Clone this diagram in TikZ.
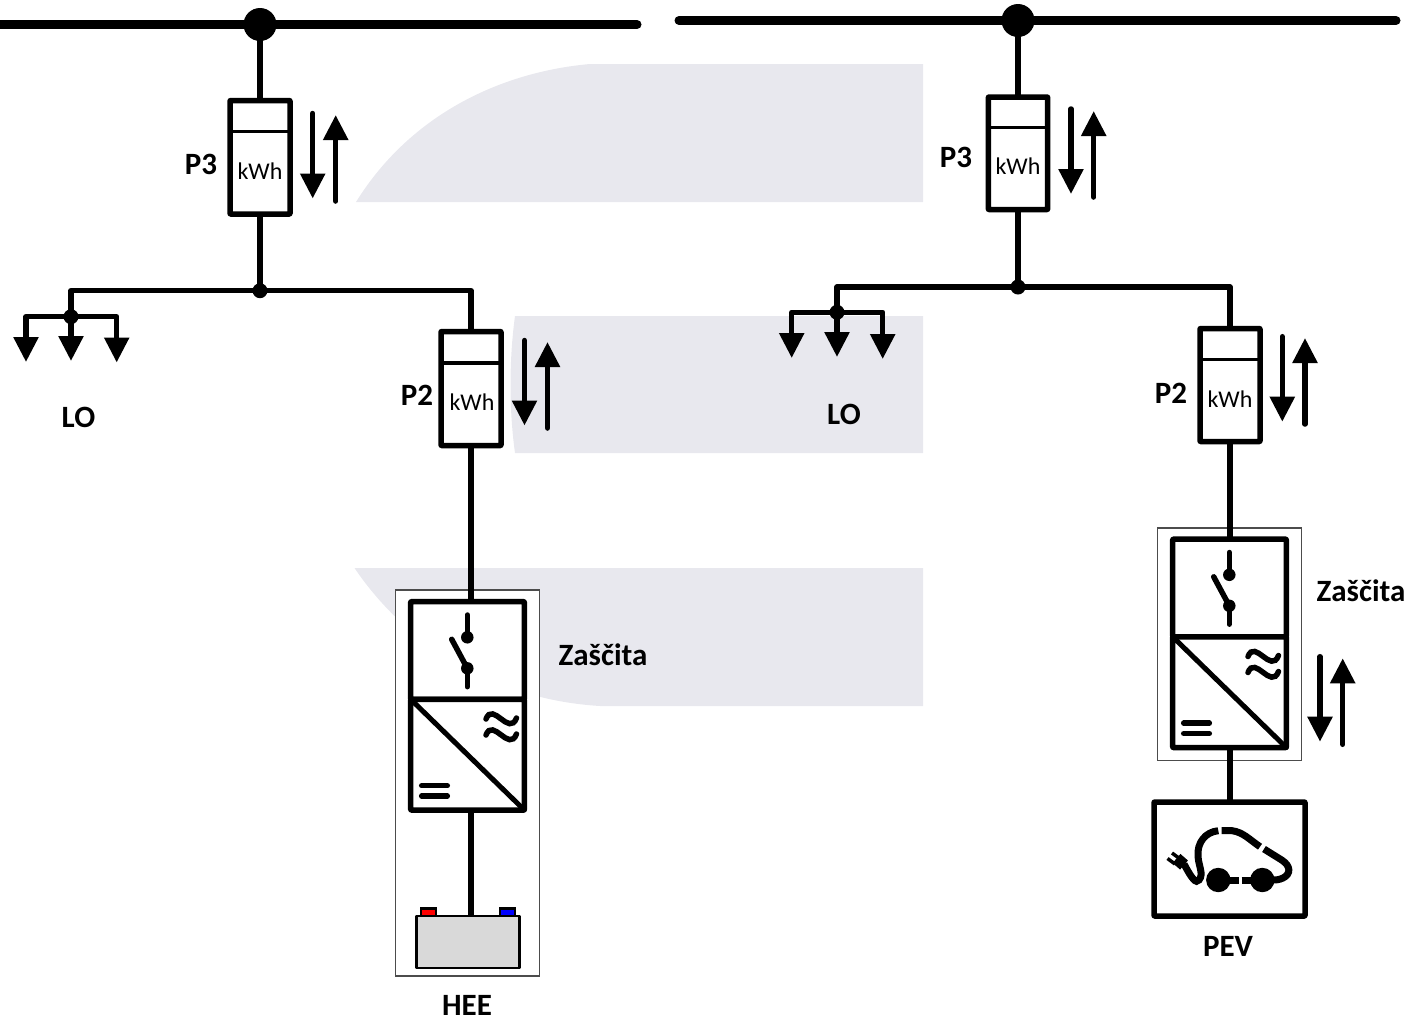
\documentclass[tikz,border=0pt]{standalone}
\usepackage{fontspec}
\setmainfont{Carlito}
\usetikzlibrary{arrows.meta,calc}
\definecolor{bandgrey}{HTML}{E8E8EE}
\definecolor{battgrey}{HTML}{D9D9D9}
\tikzset{
  busline/.style={line width=9pt,line cap=round},
  wire/.style={line width=6pt,line join=round},
  thinwire/.style={line width=5.5pt,line join=round},
  flowarrow/.style={line width=5.5pt,line cap=round,-{Triangle[width=24pt,length=25pt]}},
  loadarrow/.style={line width=5.5pt,line join=round,-{Triangle[width=24pt,length=25pt]}},
  box/.style={draw=black,line width=5.5pt,fill=white,rounded corners=0.5pt,inner sep=0pt,outer sep=0pt,line join=round},
  bigdot/.style={circle,fill=black,inner sep=0pt,outer sep=0pt,minimum size=33pt},
  smalldot/.style={circle,fill=black,inner sep=0pt,outer sep=0pt,minimum size=15pt},
  pivot/.style={circle,fill=black,inner sep=0pt,outer sep=0pt,minimum size=12.5pt},
  lbl/.style={font=\fontsize{31}{33}\selectfont\bfseries,inner sep=0pt},
  unitlbl/.style={font=\fontsize{24}{26}\selectfont,inner sep=0pt},
  frame/.style={draw=black!70,line width=1.2pt,fill=white,inner sep=0pt,outer sep=0pt},
  band/.style={fill=bandgrey,draw=none},
  symb/.style={line width=5.5pt,line cap=round},
}
% name, cx, top, bottom, divider y, half width
\newcommand{\meterbox}[6]{%
  \node[box,minimum width=#6*2pt,minimum height=#4pt-#3pt] (#1) at (#2,{(#3+#4)/2}) {};
  \draw[line width=3.5pt] (#1.west |- {0,#5}) -- (#1.east |- {0,#5});
}
% prefix, x, top, bottom of the two arrows
\newcommand{\flowpair}[5]{%
  \coordinate (#1a) at (#2,#4);\coordinate (#1b) at (#2,#4+85);
  \coordinate (#1c) at (#3,#5);\coordinate (#1d) at (#3,#5-86);
  \draw[flowarrow] (#1a) -- (#1b);
  \draw[flowarrow] (#1c) -- (#1d);
}
% prefix: protection + converter, in left-unit coordinates
\newcommand{\protunit}[1]{%
  \node[box,minimum width=113.6pt,minimum height=97.6pt] (#1sw) at (467.5,650.5) {};
  \node[box,minimum width=113.6pt,minimum height=110.7pt] (#1conv) at (467.5,754.65) {};
  \draw[line width=5pt,line cap=round] (#1conv.north west) -- (#1conv.south east);
  \node[pivot] (#1pa) at (467.3,637.3) {};
  \node[pivot] (#1pb) at (467.3,668.3) {};
  \coordinate (#1ta) at (467.3,615);
  \coordinate (#1tb) at (467.3,686.7);
  \coordinate (#1tc) at (451.7,639.3);
  \draw[symb] (#1ta) -- (#1pa.center);
  \draw[symb] (#1pb.center) -- (#1tb);
  \draw[symb] (#1tc) -- (#1pb.center);
  \draw[symb] (486,719) .. controls (493,701) and (509,737) .. (516.5,718);
  \draw[symb] (486,735) .. controls (493,717) and (509,753) .. (516.5,734);
  \draw[symb] (421.7,785.7) -- (447.3,785.7);
  \draw[symb] (421.7,796) -- (447.3,796);
}
\begin{document}
\begin{tikzpicture}[x=1pt,y=-1pt]
\useasboundingbox (0,0) rectangle (1411,1021);
% background bands
\fill[band] (356,202) .. controls (410,115) and (500,72) .. (590,64) -- (923,64) -- (923,202) -- cycle;
\fill[band] (515,316) .. controls (509,360) and (509,410) .. (515,453) -- (923,453) -- (923,316) -- cycle;
\fill[band] (354.5,568) .. controls (410,650) and (500,700) .. (600,706) -- (923,706) -- (923,568) -- cycle;
% thin frames
\node[frame,minimum width=143.5pt,minimum height=386pt] (frameL) at (467.5,783) {};
\node[frame,minimum width=143.6pt,minimum height=232.7pt] (frameR) at (1229.5,644.4) {};

%%% LEFT UNIT
\coordinate (busLa) at (-6,24.5);
\coordinate (busLb) at (637,24.5);
\draw[busline] (busLa) -- (busLb);
\node[bigdot] (nodeL) at (260,24.5) {};
\meterbox{mLthree}{260}{100.5}{214}{131.5}{30}
\draw[wire] (nodeL.center) -- (mLthree.north);
\node[smalldot] (jL) at (260,290.7) {};
\draw[wire] (mLthree.south) -- (jL.center);
\node[lbl] (lP3L) at (201,164.5) {P3};
\node[unitlbl] (kL3) at (260,171) {kWh};
\flowpair{fLthree}{312.7}{335.7}{113.5}{201}
\meterbox{mLtwo}{471}{331.5}{445.5}{363}{30}
\draw[thinwire] (jL.center) -| (mLtwo.north);
\node[lbl] (lP2L) at (417,395) {P2};
\node[unitlbl] (kL2) at (472,402) {kWh};
\flowpair{fLtwo}{524.5}{547.5}{340.5}{428}
% load
\node[smalldot] (loadL) at (71,316.7) {};
\draw[thinwire] (jL.center) -| (loadL.center);
\coordinate (tipLa) at (26,362);
\coordinate (tipLb) at (71,361);
\coordinate (tipLc) at (116.7,362.5);
\draw[loadarrow] (loadL.center) -| (tipLa);
\draw[loadarrow] (loadL.center) -- (tipLb);
\draw[loadarrow] (loadL.center) -| (tipLc);
\node[lbl] (lLOL) at (78.5,417.5) {LO};
% protection + storage
\protunit{pL}
\draw[wire] (mLtwo.south) -- (mLtwo.south |- pLsw.north);
\node[lbl] (lZL) at (603,655) {Zaščita};
\node[draw=black,line width=2.8pt,fill=battgrey,inner sep=0pt,outer sep=0pt,minimum width=102.6pt,minimum height=52pt,line join=round] (batt) at (468,942) {};
\draw[draw=black,line width=2.8pt,fill=red] (421,916) rectangle (436,908.5);
\draw[draw=black,line width=2.8pt,fill=blue] (500,916) rectangle (515,908.5);
\draw[wire] (mLtwo.south |- pLconv.south) -- (mLtwo.south |- batt.north);
\node[lbl] (lHEE) at (467,1005) {HEE};

%%% RIGHT UNIT
\coordinate (busRa) at (679,20.5);
\coordinate (busRb) at (1396,20.5);
\draw[busline] (busRa) -- (busRb);
\node[bigdot] (nodeR) at (1018,20.5) {};
\meterbox{mRthree}{1018}{97}{209.5}{127.5}{29.7}
\draw[wire] (nodeR.center) -- (mRthree.north);
\node[smalldot] (jR) at (1018,287) {};
\draw[wire] (mRthree.south) -- (jR.center);
\node[lbl] (lP3R) at (956,157) {P3};
\node[unitlbl] (kR3) at (1018,166.5) {kWh};
\flowpair{fRthree}{1071}{1093.7}{109}{197}
\meterbox{mRtwo}{1230}{328.5}{441.5}{359.5}{30}
\draw[thinwire] (jR.center) -| (mRtwo.north);
\node[lbl] (lP2R) at (1171,393) {P2};
\node[unitlbl] (kR2) at (1230,398.7) {kWh};
\flowpair{fRtwo}{1282.3}{1305}{336.7}{424}
% load
\node[smalldot] (loadR) at (837,312.3) {};
\draw[thinwire] (jR.center) -| (loadR.center);
\coordinate (tipRa) at (791.7,358);
\coordinate (tipRb) at (837,357);
\coordinate (tipRc) at (882.7,359);
\draw[loadarrow] (loadR.center) -| (tipRa);
\draw[loadarrow] (loadR.center) -- (tipRb);
\draw[loadarrow] (loadR.center) -| (tipRc);
\node[lbl] (lLOR) at (844,414) {LO};
% protection + EV
\begin{scope}[shift={(762,-62.5)}]
\protunit{pR}
\end{scope}
\draw[wire] (mRtwo.south) -- (mRtwo.south |- pRsw.north);
\node[lbl] (lZR) at (1361,590.7) {Zaščita};
\flowpair{fRconv}{1320}{1342.7}{656.7}{744.3}
\node[box,minimum width=151pt,minimum height=114pt] (ev) at (1229.5,859) {};
\draw[wire] (mRtwo.south |- pRconv.south) -- (mRtwo.south |- ev.north);
\node[lbl] (lPEV) at (1228,946) {PEV};
% EV icon
\begin{scope}[line width=7pt]
\fill (1218.3,880) circle (12.2pt);
\fill (1262.3,880) circle (12.2pt);
\draw[line width=7pt] (1230,880) -- (1239.3,880);
\draw[line width=7pt] (1241.7,880) -- (1251.7,880);
\draw (1218.3,830.7) .. controls (1205,832) and (1197,843) .. (1198,856)
   .. controls (1198.5,866) and (1204,874) .. (1199,880)
   .. controls (1196,884) and (1192,879) .. (1184,864);
\draw (1221.7,830.7) -- (1232,830.7) .. controls (1243,832) and (1250,840) .. (1260,846.7);
\draw (1264,849) -- (1281.7,860) .. controls (1291,866) and (1291,874) .. (1283,878)
   .. controls (1279,880) and (1275,880) .. (1271.7,880);
\draw[line width=12pt] (1176.5,858.5) -- (1184,865);
\draw[line width=3.5pt] (1167.5,858.5) -- (1175,864);
\draw[line width=3.5pt] (1172,853) -- (1179.5,858.5);
\end{scope}
\end{tikzpicture}
\end{document}
